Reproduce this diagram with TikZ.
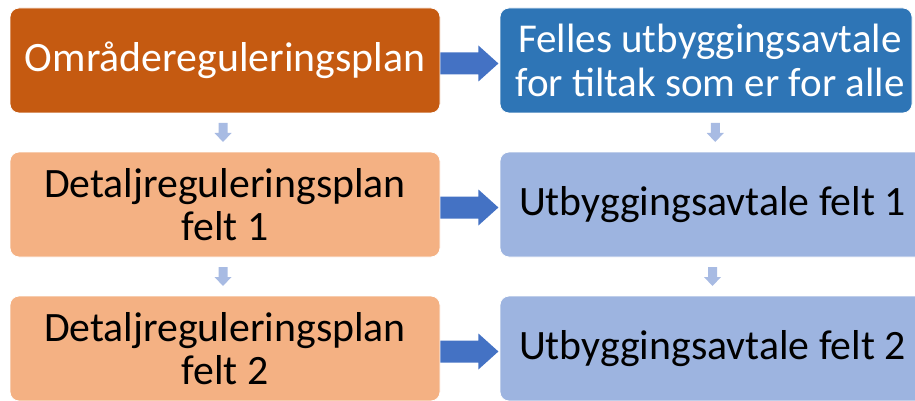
\documentclass[tikz,border=0pt]{standalone}
\usepackage{fontspec}
\setmainfont{Carlito}
\usetikzlibrary{calc}
\definecolor{darkorange}{HTML}{C55A11}
\definecolor{darkblue}{HTML}{2E75B6}
\definecolor{lightorange}{HTML}{F4B183}
\definecolor{lightblue}{HTML}{9DB4E0}
\definecolor{arrowblue}{HTML}{4472C4}
\definecolor{pale}{HTML}{A8BBE3}
\tikzset{
  box/.style={rectangle, rounded corners=9pt, draw=white, line width=0.8pt,
    inner sep=0pt, align=center, font=\fontsize{41.8}{43}\selectfont},
  leftbox/.style={box, minimum width=430pt, minimum height=105pt},
  rightbox/.style={box, minimum width=425pt, minimum height=105pt},
  harrow/.style={fill=arrowblue},
  varrow/.style={fill=pale},
}
\begin{document}
\begin{tikzpicture}[x=1pt,y=-1pt]
\useasboundingbox (0,0) rectangle (915,401);
\begin{scope}
\clip (0,0) rectangle (915,401);
% left column: planning levels
\node[leftbox, fill=darkorange, text=white] (l1) at (225,60.5) {Områdereguleringsplan};
\node[leftbox, fill=lightorange, text=black] (l2) at (225,204.5) {Detaljreguleringsplan\\felt 1};
\node[leftbox, fill=lightorange, text=black] (l3) at (225,348.5) {Detaljreguleringsplan\\felt 2};
% right column: development agreements
\node[box, minimum width=412pt, minimum height=105pt, fill=darkblue, text=white,
      font=\fontsize{41}{44}\selectfont] (r1) at (706,60.5)
  {\hspace*{8pt}Felles utbyggingsavtale\\\hspace*{8pt}for tiltak som er for alle};
\node[rightbox, fill=lightblue, text=black] (r2) at (712.5,204.5) {Utbyggingsavtale felt 1};
\node[rightbox, fill=lightblue, text=black] (r3) at (712.5,348.5) {Utbyggingsavtale felt 2};
\end{scope}
% block arrows from plan to agreement
\foreach \a/\b in {l1/r1, l2/r2, l3/r3}{
  \path (\a.east) ++(0,3) coordinate (s);
  \fill[harrow] (s) ++(0,-11) -- ++(38,0) -- ++(0,-7) -- ++(20,18)
     -- ++(-20,18) -- ++(0,-7) -- ++(-38,0) -- cycle;
}
% small arrows between levels
\foreach \a/\b/\dx in {l1/l2/-2, l2/l3/-2, r1/r2/6, r2/r3/0}{
  \path ($(\a.south)!0.5!(\b.north)$) ++(\dx,-9.5) coordinate (t);
  \fill[varrow] (t) ++(-4.5,0) -- ++(9,0) -- ++(0,10) -- ++(4,0) -- ++(-8.5,9)
     -- ++(-8.5,-9) -- ++(4,0) -- cycle;
}
\end{tikzpicture}
\end{document}
